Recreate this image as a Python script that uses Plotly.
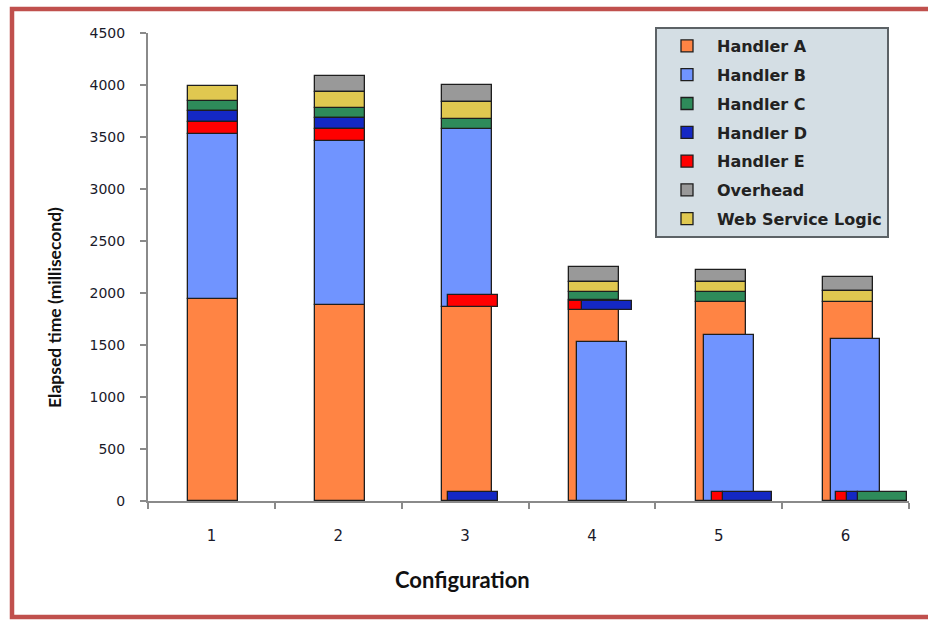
import plotly.graph_objects as go

# ---- data: elapsed time per configuration (milliseconds) ----
configs = [1, 2, 3, 4, 5, 6]
tick_labels = ["1", "2", "3", "4", "5", "6"]

series_names = ["Handler A", "Handler B", "Handler C", "Handler D",
                "Handler E", "Overhead", "Web Service Logic"]

# start time of each segment (ms)
handler_a_start = [0, 0, 0, 0, 0, 0]
handler_b_start = [1940, 1880, 1870, 0, 0, 0]
handler_c_start = [3753, 3686, 3580, 1930, 1917, 0]
handler_d_start = [3640, 3575, 0, 1837, 0, 0]
handler_e_start = [3530, 3460, 1870, 1837, 0, 0]
overhead_start = [3994, 3930, 3834, 2109, 2103, 2019]
wsl_start = [3843, 3782, 3673, 2007, 2013, 1910]

# duration of each segment (ms)
handler_a_ms = [1940, 1880, 1870, 1930, 1917, 1910]
handler_b_ms = [1590, 1580, 1710, 1532, 1596, 1558]
handler_c_ms = [90, 96, 93, 77, 96, 90]
handler_d_ms = [113, 111, 90, 89, 90, 90]
handler_e_ms = [110, 115, 110, 89, 90, 90]
overhead_ms = [0, 160, 166, 138, 118, 136]
wsl_ms = [151, 148, 161, 102, 90, 109]

# ---- styling: colours and horizontal placement within each slot ----
colors = {
    "Handler A": "#ff8444",
    "Handler B": "#7094ff",
    "Handler C": "#2e8b5a",
    "Handler D": "#1428c4",
    "Handler E": "#ff0000",
    "Overhead": "#999999",
    "Web Service Logic": "#e0c850",
}

MAIN_OFF, MAIN_W = -0.181, 0.394
# (offset, width) in category units for every configuration
placement = {
    "Handler A": [(MAIN_OFF, MAIN_W)] * 6,
    "Handler B": [(MAIN_OFF, MAIN_W)] * 3 + [(-0.115, 0.39)] * 3,
    "Handler C": [(MAIN_OFF, MAIN_W)] * 5 + [(0.097, 0.391)],
    "Handler D": [(MAIN_OFF, MAIN_W), (MAIN_OFF, MAIN_W), (-0.134, 0.39),
                  (-0.075, 0.394), (0.037, 0.386), (0.010, 0.087)],
    "Handler E": [(MAIN_OFF, MAIN_W), (MAIN_OFF, MAIN_W), (-0.134, 0.39),
                  (-0.18, 0.105), (-0.054, 0.091), (-0.074, 0.084)],
    "Overhead": [(MAIN_OFF, MAIN_W)] * 6,
    "Web Service Logic": [(MAIN_OFF, MAIN_W)] * 6,
}

starts = {
    "Handler A": handler_a_start, "Handler B": handler_b_start,
    "Handler C": handler_c_start, "Handler D": handler_d_start,
    "Handler E": handler_e_start, "Overhead": overhead_start,
    "Web Service Logic": wsl_start,
}
durations = {
    "Handler A": handler_a_ms, "Handler B": handler_b_ms,
    "Handler C": handler_c_ms, "Handler D": handler_d_ms,
    "Handler E": handler_e_ms, "Overhead": overhead_ms,
    "Web Service Logic": wsl_ms,
}

fig = go.Figure()
for name in series_names:
    xs, bases, ys, offs, ws = [], [], [], [], []
    for i, c in enumerate(configs):
        if durations[name][i] <= 0:
            continue
        xs.append(c)
        bases.append(starts[name][i])
        ys.append(durations[name][i])
        offs.append(placement[name][i][0])
        ws.append(placement[name][i][1])
    fig.add_trace(go.Bar(
        name=name, x=xs, y=ys, base=bases, offset=offs, width=ws,
        marker=dict(color=colors[name], line=dict(color="#1e1e1e", width=1.3)),
        legendgroup=name,
    ))

# plot-area geometry (px) used for the frame and title placement
L, R, T, B = 148, 19, 33, 119
W, H = 928, 620
PW, PH = W - L - R, H - T - B


def px(x):
    return (x - L) / PW


def py(y):
    return (H - B - y) / PH


# open frame: top, left and bottom edges only (the right edge runs off the page)
frame = (f"M {px(1000)},{py(9)} L {px(12)},{py(9)} "
         f"L {px(12)},{py(617)} L {px(1000)},{py(617)}")

fig.update_layout(
    width=W, height=H,
    margin=dict(l=L, r=R, t=T, b=B),
    paper_bgcolor="white", plot_bgcolor="white",
    barmode="overlay",
    bargap=0,
    showlegend=True,
    legend=dict(
        x=px(655), y=py(27), xanchor="left", yanchor="top",
        bgcolor="#d4dee4", bordercolor="#5c6266", borderwidth=2,
        font=dict(family="DejaVu Sans", size=16, color="#222222", weight="bold"),
        itemwidth=50, traceorder="grouped", tracegroupgap=5,
    ),
    xaxis=dict(
        range=[0.5, 6.5], tickvals=configs, ticktext=tick_labels,
        ticks="", showgrid=False, zeroline=False,
        showline=True, linecolor="#8a8a8a", linewidth=2,
        tickfont=dict(family="DejaVu Sans", size=15, color="#1a1a2a"),
        ticklabelstandoff=20,
        minor=dict(tickvals=[0.5, 1.5, 2.5, 3.5, 4.5, 5.5, 6.5],
                   ticks="outside", ticklen=6, tickcolor="#8a8a8a", tickwidth=2),
        fixedrange=True,
    ),
    yaxis=dict(
        range=[0, 4500], tickvals=list(range(0, 4501, 500)),
        ticks="outside", ticklen=6, tickcolor="#8a8a8a", tickwidth=2,
        showgrid=False, zeroline=False,
        showline=True, linecolor="#8a8a8a", linewidth=2,
        tickfont=dict(family="DejaVu Sans", size=14, color="#1a1a2a"),
        ticklabelstandoff=12,
        fixedrange=True,
    ),
    shapes=[dict(type="path", xref="paper", yref="paper", path=frame,
                 line=dict(color="#c0504d", width=4.5), fillcolor="rgba(0,0,0,0)",
                 layer="above")],
    annotations=[
        dict(text="Configuration", xref="paper", yref="paper",
             x=px(462), y=py(579), showarrow=False, xanchor="center", yanchor="middle",
             font=dict(family="Lato", size=22, color="#111111", weight="bold")),
        dict(text="Elapsed time (millisecond)", xref="paper", yref="paper",
             x=px(54), y=py(308), showarrow=False, textangle=-90,
             xanchor="center", yanchor="middle",
             font=dict(family="Lato", size=17.5, color="#111111", weight="bold")),
    ],
)

fig.write_html("out.html")
